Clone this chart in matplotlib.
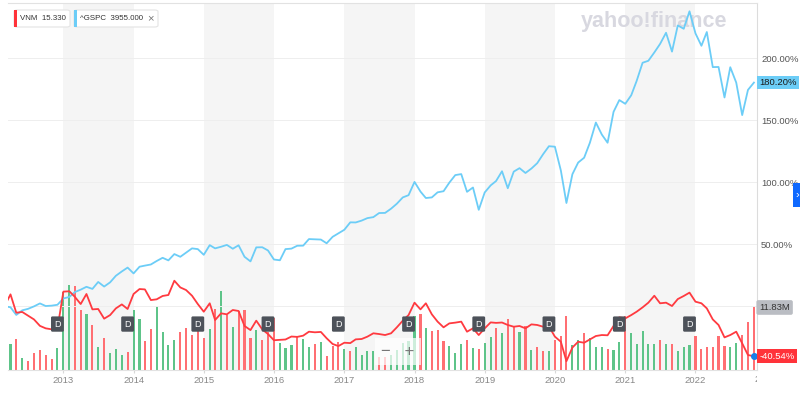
import numpy as np
import pandas as pd
import matplotlib
matplotlib.use("Agg")
import matplotlib.pyplot as plt
from matplotlib.patches import Rectangle, FancyBboxPatch
from matplotlib.transforms import blended_transform_factory, Bbox, TransformedBbox

plt.rcParams['font.family'] = ['Liberation Sans', 'DejaVu Sans']

# monthly points, Mar 2012 .. Nov 2022
months = pd.date_range('2012-03-01', '2022-11-01', freq='MS')

# ^GSPC, % change
gspc_pct = [
    -0.2, -1.0, -7.2, -3.5, -2.3, -0.3, 2.1, 0.0, 0.3, 1.0,
    6.1, 7.3, 11.2, 13.2, 15.5, 13.8, 19.4, 15.7, 19.1, 24.4, 27.9, 31.0,
    26.3, 31.7, 32.6, 33.5, 36.3, 38.9, 36.8, 41.9, 39.7, 43.0, 46.5, 45.9,
    41.3, 49.1, 46.5, 47.8, 49.3, 46.2, 49.0, 39.7, 36.0, 47.3, 47.4, 44.8,
    37.5, 36.9, 45.9, 46.3, 48.6, 48.7, 54.0, 53.8, 53.6, 50.6, 55.8, 58.6,
    61.5, 67.5, 67.4, 68.9, 70.9, 71.7, 75.0, 75.1, 78.5, 82.5, 87.6, 89.4,
    100.1, 92.3, 87.1, 87.6, 91.7, 92.6, 99.5, 105.6, 106.4, 92.1, 95.6, 77.6,
    91.6, 97.3, 100.8, 108.7, 95.0, 108.4, 111.2, 107.3, 110.9, 115.2, 122.5, 128.9,
    128.5, 109.3, 83.1, 106.3, 115.7, 119.6, 131.7, 148.0, 138.3, 131.7, 156.6, 166.1,
    163.1, 170.0, 181.5, 196.2, 197.8, 204.5, 211.4, 220.4, 205.2, 226.3, 223.6, 237.7,
    219.9, 209.9, 221.0, 192.7, 192.8, 168.2, 192.6, 180.2, 154.0, 174.3, 180.2,
]

# VNM, % change
vnm_pct = [
    0.0, 9.4, -5.4, -4.8, -7.8, -10.8, -16.0, -18.0, -18.8, -18.3,
    11.6, 11.9, 7.5, 1.6, 9.7, -2.7, -2.4, -10.2, -7.3, -1.9, 1.3, -2.4,
    9.7, 13.7, 13.4, 4.8, 5.4, 8.1, 8.9, 20.4, 15.0, 12.9, 8.3, 1.6,
    -4.6, 2.2, -11.3, -5.9, -6.7, -3.2, -4.0, -16.1, -19.4, -11.8, -18.8, -22.6,
    -27.6, -27.3, -27.0, -24.6, -24.9, -23.9, -20.7, -21.2, -20.9, -26.0, -30.6, -32.3,
    -29.6, -29.9, -26.9, -26.6, -24.7, -22.0, -22.6, -23.4, -22.0, -17.2, -11.8, -7.3,
    2.7, -2.7, 2.2, -6.7, -12.6, -17.2, -14.0, -13.4, -12.6, -20.7, -18.0, -23.4,
    -18.0, -13.2, -13.6, -13.3, -15.3, -16.7, -16.1, -18.0, -14.8, -15.3, -16.7, -16.4,
    -24.7, -28.8, -44.5, -33.5, -28.8, -29.6, -26.9, -24.2, -23.4, -23.6, -16.1, -9.1,
    -10.0, -7.3, -4.6, -1.1, 2.7, 8.3, 2.2, 2.7, 0.0, 5.6, 8.1, 10.8,
    3.5, 2.2, -1.9, -10.8, -15.3, -25.3, -23.4, -20.7, -30.1, -39.5, -40.54,
]

# VNM volume, millions
vnm_volume = [
    4.8, 4.95, 5.77, 2.1, 1.65, 3.24, 3.68, 2.86, 1.96, 4.06,
    14.8, 16.1, 15.9, 11.4, 10.5, 8.45, 4.33, 6.05, 3.19, 3.82, 2.73, 3.38,
    11.3, 9.54, 5.4, 7.69, 12.15, 7.12, 4.71, 5.72, 7.19, 7.82, 6.54, 8.01,
    6.1, 7.63, 11.45, 15.0, 10.36, 8.15, 11.2, 11.3, 6.05, 7.44, 5.59, 7.12,
    9.73, 4.96, 4.14, 4.58, 6.43, 5.91, 4.2, 4.83, 5.28, 2.54, 4.45, 5.28,
    4.0, 3.49, 4.2, 2.86, 3.49, 3.62, 2.29, 2.29, 2.73, 3.68, 5.09, 5.47,
    10.17, 10.55, 7.96, 7.31, 7.5, 5.47, 4.45, 3.24, 4.83, 5.72, 4.14, 4.0,
    5.09, 6.24, 8.01, 7.0, 9.6, 8.34, 7.19, 8.26, 3.68, 4.2, 3.49, 3.49,
    5.72, 6.35, 10.17, 4.64, 5.72, 6.87, 6.1, 4.33, 4.33, 3.82, 3.68, 5.28,
    10.17, 7.0, 4.83, 7.31, 4.83, 4.83, 5.72, 4.77, 4.83, 3.57, 4.33, 4.64,
    6.43, 4.0, 4.2, 4.2, 6.35, 4.45, 4.2, 4.96, 6.54, 9.1, 11.83,
]

dividend_months = ['2012-12', '2013-12', '2014-12', '2015-12', '2016-12',
                   '2017-12', '2018-12', '2019-12', '2020-12', '2021-12']
year_ticks = list(range(2013, 2023))
shaded_years = [2013, 2015, 2017, 2019, 2021]
pct_ticks = [0, 50, 100, 150, 200]
vnm_price = '15.330'
gspc_price = '3955.000'

BLUE = '#6ccdf7'
RED = '#ff3a40'
GREEN_BAR = '#5ec489'
RED_BAR = '#ff6f73'

W, H = 800, 394
fig = plt.figure(figsize=(W / 100, H / 100), dpi=100)


def fx(x):
    return x / W


def fy(y):
    return 1 - y / H


left, right, top, bottom = 8, 757, 3, 369.5
rect = [fx(left), fy(bottom), (right - left) / W, (bottom - top) / H]

# volume axis underneath
axv = fig.add_axes(rect, zorder=0)
ax = fig.add_axes(rect, zorder=1, sharex=axv)
ax.patch.set_visible(False)

for yr in shaded_years:
    axv.axvspan(pd.Timestamp(f'{yr}-01-01'), pd.Timestamp(f'{yr + 1}-01-01'),
                color='#f5f5f5', lw=0)

vnm_arr = np.array(vnm_pct)
up = np.concatenate([[True], np.diff(vnm_arr) >= 0])
bar_colors = [GREEN_BAR if u else RED_BAR for u in up]
axv.bar(months, vnm_volume, width=11, color=bar_colors, lw=0)
axv.set_ylim(0, 69.9)
axv.axis('off')

ax.set_xlim(pd.Timestamp('2012-03-19'), pd.Timestamp('2022-11-17'))
ax.set_ylim(-51.2, 244.4)
ax.grid(axis='y', color='#eeeeee', lw=0.7)
ax.set_axisbelow(True)

ax.text(0.862, 0.95, 'yahoo!finance', transform=ax.transAxes, ha='center', va='center',
        fontsize=15.5, fontweight='bold', color='#d8d8e0', zorder=0.5)

ax.plot(months, gspc_pct, color=BLUE, lw=1.3, zorder=3)
ax.plot(months, vnm_pct, color=RED, lw=1.3, zorder=3)
ax.plot(months[-1], vnm_pct[-1], 'o', color='#1a7ee8', ms=4, zorder=4)

# dividend markers
xt = ax.get_xaxis_transform()
for d in dividend_months:
    ax.text(pd.Timestamp(d + '-01'), 0.124, 'D', transform=xt, ha='center', va='center',
            fontsize=6.5, color='white', zorder=5,
            bbox=dict(boxstyle='round,pad=0.35,rounding_size=0.15', fc='#4d525a', ec='none'))

# zoom control
ax.text(0.5207, 0.05, '\u2212   +', transform=ax.transAxes, ha='center', va='center',
        fontsize=12, color='#777777', zorder=6,
        bbox=dict(boxstyle='square,pad=0.35', fc='white', ec='none', alpha=0.7))

# axes styling
ax.spines['left'].set_visible(False)
ax.spines['top'].set_color('#e2e2e2')
ax.spines['right'].set_color('#dcdcdc')
ax.spines['bottom'].set_color('#e2e2e2')
for s in ax.spines.values():
    s.set_linewidth(0.8)

ax.yaxis.tick_right()
ax.set_yticks(pct_ticks)
ax.set_yticklabels([f'{v:.2f}%' for v in pct_ticks])
ax.tick_params(axis='y', length=0, pad=3, labelsize=6.8, labelcolor='#555555')

ax.set_xticks([pd.Timestamp(f'{y}-01-01') for y in year_ticks])
ax.set_xticklabels([str(y) for y in year_ticks])
ax.tick_params(axis='x', length=2.5, width=0.8, color='#d8d8d8', pad=2,
               labelsize=6.8, labelcolor='#888888')

# clipped next-year label at right edge
t = fig.text(fx(765.3), fy(379), '2023', ha='center', va='center', fontsize=6.8, color='#888888')
t.set_clip_box(TransformedBbox(Bbox([[0, 0], [fx(right), 1]]), fig.transFigure))
t.set_clip_on(True)

# last value labels
yt = ax.get_yaxis_transform()
ax.text(1.003, gspc_pct[-1], f'{gspc_pct[-1]:.2f}%', transform=yt, ha='left', va='center',
        fontsize=6.8, color='#1a1a1a', zorder=7, clip_on=False,
        bbox=dict(boxstyle='square,pad=0.25', fc=BLUE, ec='none'))
ax.text(1.003, vnm_pct[-1], f'{vnm_pct[-1]:.2f}%', transform=yt, ha='left', va='center',
        fontsize=6.8, color='white', zorder=7, clip_on=False,
        bbox=dict(boxstyle='square,pad=0.25', fc='#ff333a', ec='none'))
vt = blended_transform_factory(ax.transAxes, axv.transData)
ax.text(1.003, vnm_volume[-1], f'{vnm_volume[-1]:.2f}M', transform=vt, ha='left', va='center',
        fontsize=6.8, color='#333333', zorder=7, clip_on=False,
        bbox=dict(boxstyle='round,pad=0.3,rounding_size=0.2', fc='#babdc3', ec='none'))


# legend chips
def chip(x0, x1, color, label):
    fig.patches.append(FancyBboxPatch((fx(x0), fy(27)), (x1 - x0) / W, 17 / H,
                                      boxstyle='round,pad=0,rounding_size=0.004',
                                      transform=fig.transFigure, fc='white', ec='#e4e4e4',
                                      lw=0.8, zorder=5))
    fig.patches.append(Rectangle((fx(x0), fy(27)), 3 / W, 17 / H, transform=fig.transFigure,
                                 fc=color, ec='none', zorder=6))
    fig.text(fx(x0 + 6), fy(18.5), label, ha='left', va='center', fontsize=5.7,
             color='#333333', zorder=7)


chip(14, 70, '#ff333a', f'VNM  {vnm_price}')
chip(74, 158, BLUE, f'^GSPC  {gspc_price}')
fig.text(fx(150), fy(18.5), '\u00d7', ha='center', va='center', fontsize=8,
         color='#777777', zorder=7)

# side tab
fig.patches.append(Rectangle((fx(793), fy(207)), 7 / W, 24 / H, transform=fig.transFigure,
                             fc='#0f69ff', ec='none', zorder=5))
fig.text(fx(797), fy(195), '\u203a', ha='center', va='center', fontsize=8, color='white', zorder=6)

fig.savefig('out.png', dpi=100)
